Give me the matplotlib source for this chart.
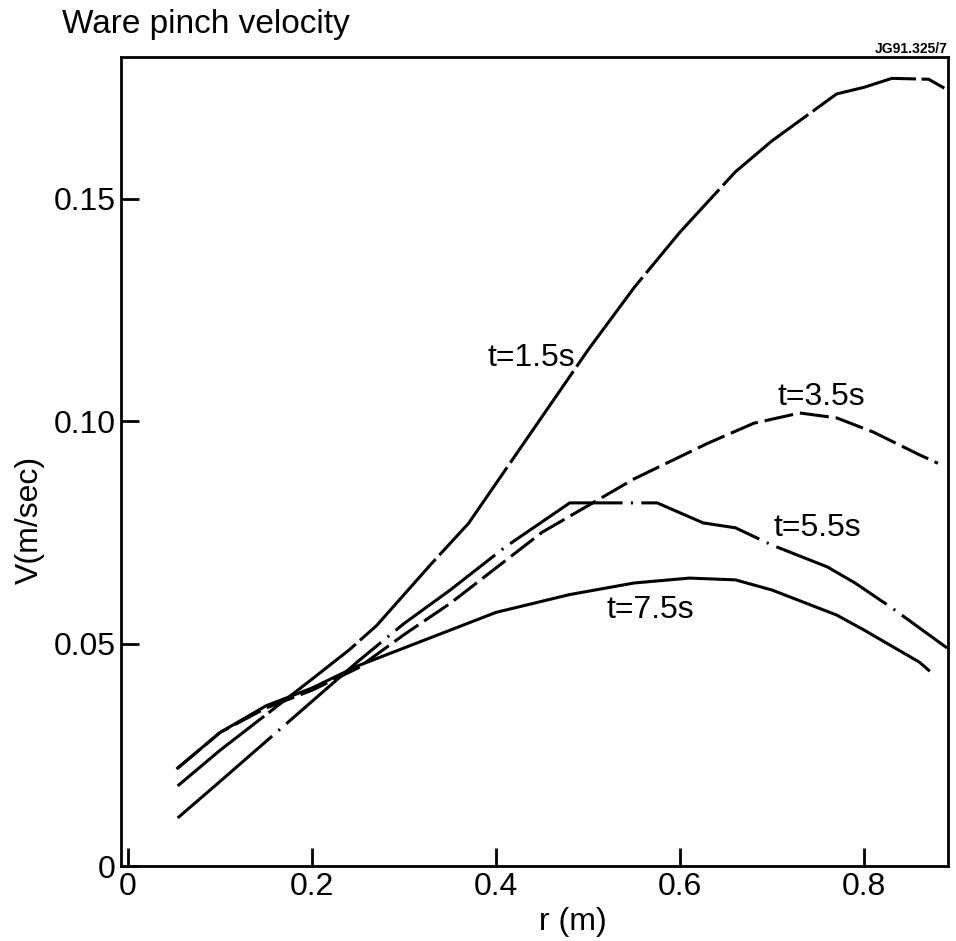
import matplotlib
matplotlib.use("Agg")
import matplotlib.pyplot as plt

# ==========================================
# data (r in m, V in m/sec)
# ==========================================
r_15 = [0.054, 0.10, 0.15, 0.20, 0.24, 0.27, 0.30, 0.33, 0.37, 0.40, 0.44,
        0.50, 0.55, 0.60, 0.66, 0.70, 0.77, 0.80, 0.83, 0.87, 0.887]
v_15 = [0.018, 0.026, 0.034, 0.042, 0.0485, 0.054, 0.061, 0.068, 0.077, 0.086, 0.098,
        0.116, 0.130, 0.1425, 0.156, 0.163, 0.1735, 0.175, 0.1770, 0.1768, 0.1748]

r_35 = [0.054, 0.10, 0.15, 0.20, 0.25, 0.30, 0.35, 0.40, 0.45, 0.50, 0.55,
        0.59, 0.63, 0.68, 0.73, 0.77, 0.81, 0.86, 0.88]
v_35 = [0.022, 0.030, 0.0355, 0.0395, 0.0445, 0.052, 0.059, 0.067, 0.075, 0.081, 0.087,
        0.091, 0.095, 0.0995, 0.1018, 0.1007, 0.0975, 0.0924, 0.0905]

r_55 = [0.054, 0.10, 0.15, 0.20, 0.25, 0.30, 0.35, 0.41, 0.48, 0.575, 0.625,
        0.66, 0.70, 0.76, 0.79, 0.83, 0.86, 0.89]
v_55 = [0.0108, 0.019, 0.028, 0.037, 0.046, 0.0545, 0.062, 0.0717, 0.0816, 0.0816, 0.0771,
        0.076, 0.0721, 0.0672, 0.0636, 0.058, 0.0535, 0.049]

r_75 = [0.054, 0.10, 0.15, 0.20, 0.25, 0.30, 0.40, 0.48, 0.55, 0.61, 0.66,
        0.70, 0.77, 0.80, 0.86, 0.87]
v_75 = [0.022, 0.030, 0.036, 0.040, 0.045, 0.049, 0.057, 0.061, 0.0636, 0.0647, 0.0643,
        0.062, 0.0564, 0.053, 0.0458, 0.044]

labels = ["t=1.5s", "t=3.5s", "t=5.5s", "t=7.5s"]
x_ticks = [0, 0.2, 0.4, 0.6, 0.8]
x_tick_labels = ["0", "0.2", "0.4", "0.6", "0.8"]
y_ticks = [0, 0.05, 0.10, 0.15]
y_tick_labels = ["0", "0.05", "0.10", "0.15"]

plt.rcParams["font.family"] = ["Liberation Sans", "DejaVu Sans"]
plt.rcParams["lines.scale_dashes"] = False

fig = plt.figure(figsize=(9.56, 9.41), dpi=100)
ax = fig.add_axes([121 / 956, 75 / 941, 827 / 956, 809 / 941])

lw = 2.2
ax.plot(r_15, v_15, color="black", lw=lw, linestyle=(0, (80, 4)))
ax.plot(r_35, v_35, color="black", lw=lw, linestyle=(0, (21, 5)))
ax.plot(r_55, v_55, color="black", lw=lw, linestyle=(0, (90, 6, 1.5, 6)))
ax.plot(r_75, v_75, color="black", lw=lw, linestyle="-")

# curve labels
ax.text(0.438, 0.1142, labels[0], fontsize=23, ha="center", va="center")
ax.text(0.753, 0.1054, labels[1], fontsize=23, ha="center", va="center")
ax.text(0.749, 0.0760, labels[2], fontsize=23, ha="center", va="center")
ax.text(0.567, 0.0575, labels[3], fontsize=23, ha="center", va="center")

ax.set_xlim(-0.0076, 0.891)
ax.set_ylim(0, 0.1818)
ax.set_xticks(x_ticks)
ax.set_xticklabels(x_tick_labels)
ax.set_yticks(y_ticks)
ax.set_yticklabels(y_tick_labels)
ax.tick_params(direction="in", length=13, width=2, labelsize=23, pad=4)

for s in ax.spines.values():
    s.set_linewidth(2)

fig.text(573 / 956, 1 - 922 / 941, "r (m)", fontsize=23, ha="center", va="center")
fig.text(30 / 956, 1 - 520 / 941, "V(m/sec)", fontsize=23, ha="center", va="center",
         rotation=90)
fig.text(62 / 956, 1 - 24 / 941, "Ware pinch velocity", fontsize=24, ha="left", va="center")
fig.text(948 / 956, 1 - 53 / 941, "JG91.325/7", fontsize=10, fontweight="bold",
         ha="right", va="baseline")

fig.savefig("out.png", dpi=100)
